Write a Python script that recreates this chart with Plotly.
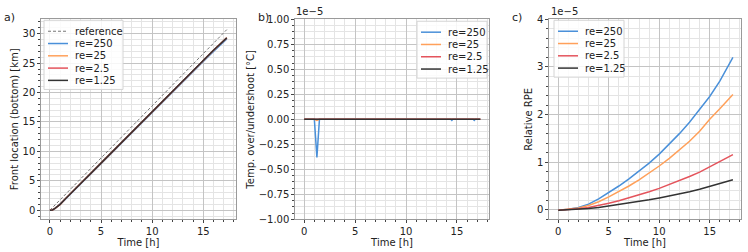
import plotly.graph_objects as go

# ---------------- data ----------------
# Panel a: front location (bottom) [km]
time_ref = [0.0, 17.3]
front_ref = [0.0, 30.7]
time_a = [0.0, 0.25, 0.5, 0.75, 1.0, 1.5, 2.0, 3.0, 4.0, 5.0, 6.0, 7.0, 8.0, 9.0, 10.0,
          11.0, 12.0, 13.0, 14.0, 15.0, 16.0, 17.3]
front_re250 = [0.0, 0.05, 0.3, 0.65, 1.0, 1.85, 2.7, 4.45, 6.2, 7.95, 9.7, 11.4, 13.15, 14.9,
               16.6, 18.35, 20.05, 21.8, 23.55, 25.3, 27.0, 29.1]
front_re25 = [0.0, 0.05, 0.3, 0.65, 1.0, 1.9, 2.75, 4.5, 6.25, 8.0, 9.75, 11.5, 13.25, 15.0,
              16.7, 18.45, 20.2, 21.95, 23.7, 25.45, 27.2, 29.3]
front_re2_5 = [0.0, 0.05, 0.3, 0.65, 1.0, 1.9, 2.75, 4.5, 6.25, 8.0, 9.75, 11.5, 13.25, 15.0,
               16.7, 18.45, 20.2, 21.95, 23.7, 25.45, 27.2, 29.3]
front_re1_25 = [0.0, 0.05, 0.3, 0.65, 1.0, 1.9, 2.75, 4.5, 6.25, 8.0, 9.75, 11.5, 13.25, 15.0,
                16.7, 18.45, 20.2, 21.95, 23.7, 25.45, 27.2, 29.3]

# Panel b: temperature over/undershoot [x 1e-5 °C]
time_b250 = [0.0, 1.0, 1.25, 1.5, 14.4, 14.5, 14.6, 16.6, 16.7, 16.8, 17.3]
temp_re250 = [0.0, 0.0, -0.38, 0.0, 0.0, -0.01, 0.0, 0.0, -0.01, 0.0, 0.0]
time_b = [0.0, 1.0, 1.25, 1.5, 17.3]
temp_re25 = [0.0, 0.0, -0.01, 0.0, 0.0]
temp_re2_5 = [0.0, 0.0, 0.0, 0.0, 0.0]
temp_re1_25 = [0.0, 0.0, 0.0, 0.0, 0.0]

# Panel c: relative RPE [x 1e-5]
time_c = [0.0, 1.0, 2.0, 3.0, 4.0, 5.0, 6.0, 7.0, 8.0, 9.0, 10.0, 11.0, 12.0, 13.0, 14.0,
          15.0, 16.0, 17.3]
rpe_re250 = [-0.01, 0.01, 0.05, 0.12, 0.23, 0.36, 0.5, 0.65, 0.81, 0.98, 1.17, 1.38, 1.6,
             1.84, 2.1, 2.38, 2.7, 3.2]
rpe_re25 = [-0.01, 0.01, 0.04, 0.09, 0.17, 0.27, 0.38, 0.5, 0.63, 0.77, 0.92, 1.08, 1.25,
            1.44, 1.65, 1.9, 2.12, 2.42]
rpe_re2_5 = [-0.01, 0.0, 0.02, 0.05, 0.09, 0.14, 0.19, 0.25, 0.31, 0.38, 0.45, 0.53, 0.61,
             0.7, 0.79, 0.9, 1.0, 1.16]
rpe_re1_25 = [-0.01, 0.0, 0.01, 0.03, 0.05, 0.08, 0.11, 0.14, 0.17, 0.21, 0.25, 0.29, 0.33,
              0.38, 0.43, 0.49, 0.55, 0.63]

labels = ["re=250", "re=25", "re=2.5", "re=1.25"]
colors = ["#4a90d9", "#ffa05a", "#e4545c", "#333333"]
ref_label = "reference"
ref_color = "#777777"

FONT = "DejaVu Sans"
W, H = 748, 252

def px_x(p):
    return p / W

def px_y(p):
    return 1 - p / H

fig = go.Figure()

# panel a
fig.add_trace(go.Scatter(x=time_ref, y=front_ref, mode="lines", name=ref_label,
                         line=dict(color=ref_color, width=1, dash="3px,2px"),
                         xaxis="x", yaxis="y", showlegend=False))
for lab, col, ys in zip(labels, colors, [front_re250, front_re25, front_re2_5, front_re1_25]):
    fig.add_trace(go.Scatter(x=time_a, y=ys, mode="lines", name=lab,
                             line=dict(color=col, width=1.5),
                             xaxis="x", yaxis="y", showlegend=False))

# panel b
for lab, col, tx, ys in zip(labels, colors, [time_b250, time_b, time_b, time_b],
                            [temp_re250, temp_re25, temp_re2_5, temp_re1_25]):
    fig.add_trace(go.Scatter(x=tx, y=ys, mode="lines", name=lab,
                             line=dict(color=col, width=1.5),
                             xaxis="x2", yaxis="y2", showlegend=False))

# panel c
for lab, col, ys in zip(labels, colors, [rpe_re250, rpe_re25, rpe_re2_5, rpe_re1_25]):
    fig.add_trace(go.Scatter(x=time_c, y=ys, mode="lines", name=lab,
                             line=dict(color=col, width=1.5),
                             xaxis="x3", yaxis="y3", showlegend=False))

tickfont = dict(family=FONT, size=10, color="#222222")
titlefont = dict(family=FONT, size=10, color="#222222")

def xax(dom, anchor, rng):
    return dict(domain=dom, anchor=anchor, range=rng, dtick=5, tick0=0,
                showgrid=True, gridcolor="#c4c4c4", gridwidth=1,
                showline=True, linecolor="#9a9a9a", linewidth=1.3, mirror=True,
                ticks="outside", ticklen=2.5, tickcolor="#444444", tickfont=tickfont,
                zeroline=False,
                minor=dict(dtick=1, showgrid=True, gridcolor="#e4e4e4", ticks="outside",
                           ticklen=1.5, tickcolor="#444444"),
                title=dict(text="Time [h]", font=titlefont, standoff=1))

def yax(dom, anchor, rng, dtick, mdtick, title, fmt=None, standoff=2):
    d = dict(domain=dom, anchor=anchor, range=rng, dtick=dtick, tick0=0,
             showgrid=True, gridcolor="#c4c4c4", gridwidth=1,
             showline=True, linecolor="#9a9a9a", linewidth=1.3, mirror=True,
             ticks="outside", ticklen=2.5, tickcolor="#444444", tickfont=tickfont,
             zeroline=False,
             minor=dict(dtick=mdtick, showgrid=True, gridcolor="#e4e4e4", ticks="outside",
                        ticklen=1.5, tickcolor="#444444"),
             title=dict(text=title, font=titlefont, standoff=standoff))
    if fmt:
        d["tickformat"] = fmt
    return d

ydom = [px_y(224), px_y(14)]
dom_a = [px_x(41), px_x(236)]
dom_b = [px_x(295), px_x(489)]
dom_c = [px_x(549), px_x(741)]

fig.update_layout(
    width=W, height=H,
    margin=dict(l=0, r=0, t=0, b=0),
    paper_bgcolor="white", plot_bgcolor="white",
    font=dict(family=FONT, size=10, color="#222222"),
    showlegend=False,
    xaxis=xax(dom_a, "y", [-0.87, 18.2]),
    yaxis=yax(ydom, "x", [-1.55, 32.45], 5, 1, "Front location (bottom) [km]"),
    xaxis2=xax(dom_b, "y2", [-0.9, 18.15]),
    yaxis2=yax(ydom, "x2", [-1.0, 1.0], 0.25, 0.0625, "Temp. over/undershoot [°C]", fmt=".2f"),
    xaxis3=xax(dom_c, "y3", [-0.92, 18.1]),
    yaxis3=yax(ydom, "x3", [-0.2, 4.0], 1, 0.2, "Relative RPE"),
)

annots = [
    dict(text="a)", x=px_x(2), y=px_y(3), xanchor="left", yanchor="top", font=dict(family=FONT, size=11)),
    dict(text="b)", x=px_x(256), y=px_y(3), xanchor="left", yanchor="top", font=dict(family=FONT, size=11)),
    dict(text="c)", x=px_x(510), y=px_y(3), xanchor="left", yanchor="top", font=dict(family=FONT, size=11)),
    dict(text="1e−5", x=px_x(294), y=px_y(14), xanchor="left", yanchor="bottom", font=dict(family=FONT, size=10)),
    dict(text="1e−5", x=px_x(549), y=px_y(14), xanchor="left", yanchor="bottom", font=dict(family=FONT, size=10)),
]
shapes = []

# compact matplotlib-style legends (one per panel)
def add_legend(left, top, right, entries):
    row0 = top + 11.5
    step = 12.9
    bottom = row0 + step * (len(entries) - 1) + 9.5
    shapes.append(dict(type="rect", xref="paper", yref="paper",
                       x0=px_x(left), x1=px_x(right), y0=px_y(bottom), y1=px_y(top),
                       line=dict(color="#d4d4d4", width=1),
                       fillcolor="rgba(255,255,255,0.85)", layer="above"))
    for i, (lab, col, dash, wid) in enumerate(entries):
        yy = row0 + step * i
        shapes.append(dict(type="line", xref="paper", yref="paper",
                           x0=px_x(left + 4), x1=px_x(left + 24), y0=px_y(yy), y1=px_y(yy),
                           line=dict(color=col, width=wid, dash=dash), layer="above"))
        annots.append(dict(text=lab, x=px_x(left + 29), y=px_y(yy), xanchor="left",
                           yanchor="middle", font=dict(family=FONT, size=10, color="#222222")))

entries_main = [(l, c, "solid", 1.5) for l, c in zip(labels, colors)]
add_legend(44, 15, 123, [(ref_label, ref_color, "3px,2px", 1)] + entries_main)
add_legend(417, 16, 487, entries_main)
add_legend(554, 15, 624, entries_main)

for a in annots:
    a.update(xref="paper", yref="paper", showarrow=False)
fig.update_layout(annotations=annots, shapes=shapes)

fig.write_html("out.html",
               config={"displayModeBar": False},
               post_script="document.body.style.margin='0';document.body.style.padding='0';"
                           "document.body.style.overflow='hidden';")
